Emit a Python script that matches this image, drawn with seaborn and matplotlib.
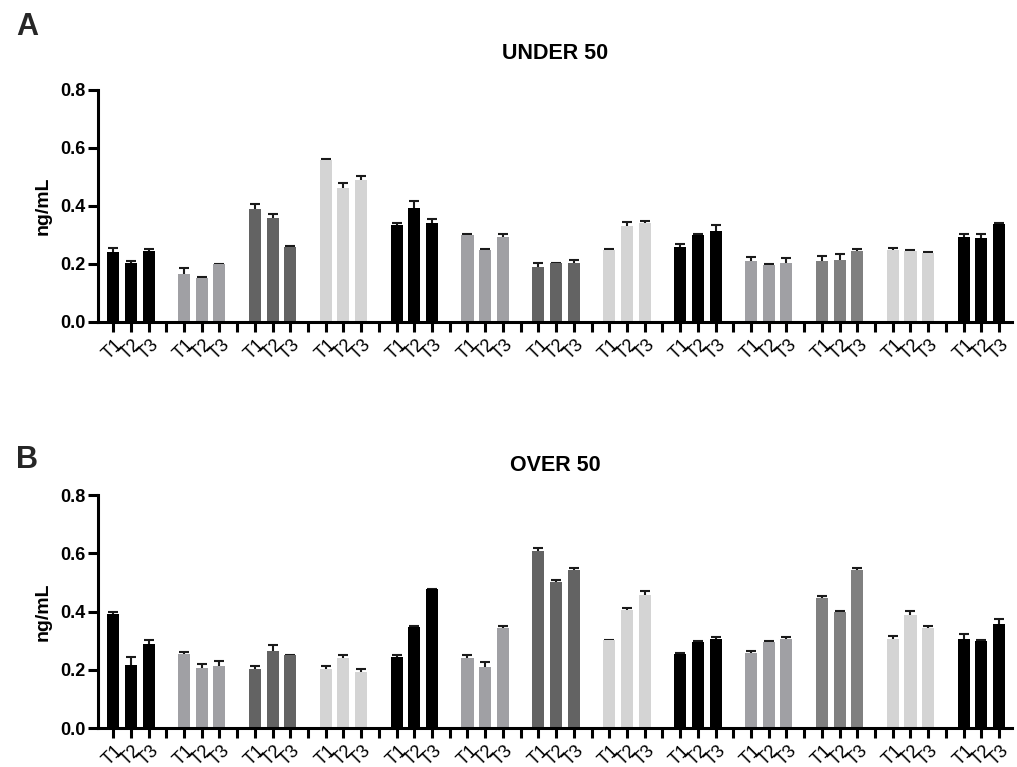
import numpy as np
import pandas as pd
import seaborn as sns
from matplotlib import pyplot as plt

time_points = ["T1", "T2", "T3"]
n_groups = 13

group_shades = ["black", "gray", "dark", "light", "black", "gray", "dark",
                "light", "black", "gray", "mid", "light", "black"]
shade_colors = {"black": "#000000", "gray": "#a0a0a4", "dark": "#636363",
                "light": "#d4d4d4", "mid": "#808080"}

under50_mean = [0.240, 0.202, 0.244, 0.166, 0.153, 0.199, 0.389, 0.357, 0.260,
                0.559, 0.461, 0.489, 0.333, 0.394, 0.340, 0.301, 0.247, 0.294,
                0.190, 0.202, 0.205, 0.249, 0.331, 0.340, 0.257, 0.301, 0.314,
                0.209, 0.195, 0.203, 0.210, 0.213, 0.246, 0.247, 0.244, 0.239,
                0.294, 0.291, 0.338]
under50_err = [0.014, 0.009, 0.009, 0.021, 0.002, 0.002, 0.017, 0.014, 0.002,
               0.004, 0.018, 0.014, 0.009, 0.022, 0.014, 0.002, 0.005, 0.009,
               0.015, 0.003, 0.010, 0.002, 0.014, 0.007, 0.013, 0.003, 0.019,
               0.014, 0.006, 0.017, 0.019, 0.023, 0.007, 0.007, 0.004, 0.002,
               0.008, 0.013, 0.002]

over50_mean = [0.390, 0.215, 0.287, 0.254, 0.206, 0.212, 0.203, 0.264, 0.250,
               0.203, 0.242, 0.194, 0.244, 0.348, 0.477, 0.242, 0.209, 0.345,
               0.607, 0.503, 0.543, 0.301, 0.405, 0.456, 0.254, 0.295, 0.304,
               0.257, 0.297, 0.304, 0.447, 0.399, 0.544, 0.306, 0.389, 0.344,
               0.307, 0.300, 0.358]
over50_err = [0.010, 0.030, 0.016, 0.006, 0.014, 0.018, 0.009, 0.020, 0.002,
              0.009, 0.010, 0.009, 0.008, 0.002, 0.002, 0.008, 0.019, 0.006,
              0.011, 0.006, 0.007, 0.002, 0.006, 0.013, 0.002, 0.005, 0.009,
              0.009, 0.002, 0.010, 0.005, 0.002, 0.005, 0.011, 0.013, 0.006,
              0.016, 0.002, 0.016]

FONT = "Liberation Sans"


def build_frame(means, errs):
    rows = []
    for g in range(n_groups):
        for t, tp in enumerate(time_points):
            i = g * 3 + t
            rows.append({"slot": f"G{g + 1}-{tp}", "group": f"G{g + 1}",
                         "time": tp, "value": means[i], "err": errs[i]})
    return pd.DataFrame(rows)


# slot order with an empty slot between groups
order, tick_labels = [], []
for g in range(n_groups):
    for tp in time_points:
        order.append(f"G{g + 1}-{tp}")
        tick_labels.append(tp)
    if g < n_groups - 1:
        order.append(f"gap{g + 1}")
        tick_labels.append("")

palette = {f"G{g + 1}": shade_colors[s] for g, s in enumerate(group_shades)}


def draw_panel(ax, means, errs, title, pad):
    df = build_frame(means, errs)
    sns.barplot(df, x="slot", y="value", hue="group", order=order,
                palette=palette, dodge=False, width=0.68, linewidth=0,
                legend=False, ax=ax, zorder=2)
    xpos = [order.index(s) for s in df["slot"]]
    # symmetric bars drawn behind the columns, so only the upper half shows
    ax.errorbar(xpos, df["value"], yerr=df["err"], fmt="none",
                ecolor="#1a1a1a", elinewidth=1.5, capsize=3.5,
                capthick=1.5, zorder=1)
    ax.set_xticks(range(len(order)))
    ax.set_xticklabels(tick_labels, rotation=45, fontsize=13, family=FONT,
                       color="black")
    ax.set_xlim(-0.85, len(order) - 1 + 0.73)
    ax.set_ylim(0, 0.8)
    ax.set_yticks([0.0, 0.2, 0.4, 0.6, 0.8])
    ax.set_yticklabels(["0.0", "0.2", "0.4", "0.6", "0.8"], fontsize=13,
                       fontweight="bold", family=FONT, color="black")
    ax.set_xlabel("")
    ax.set_ylabel("ng/mL", fontsize=14, fontweight="bold", family=FONT,
                  labelpad=6, color="black")
    ax.set_title(title, fontsize=15.5, fontweight="bold", family=FONT,
                 pad=pad, color="black")
    for side in ["top", "right"]:
        ax.spines[side].set_visible(False)
    for side in ["left", "bottom"]:
        ax.spines[side].set_linewidth(2.2)
        ax.spines[side].set_color("black")
    ax.tick_params(axis="x", bottom=True, length=7, width=2.2, pad=3,
                   color="black")
    ax.tick_params(axis="y", left=True, length=7, width=2.2, pad=2,
                   color="black")


sns.set_style("ticks")
fig = plt.figure(figsize=(10.17, 7.67), dpi=100)
ax_a = fig.add_axes([0.0964, 0.5802, 0.8987, 0.3025])
ax_b = fig.add_axes([0.0964, 0.0508, 0.8987, 0.3038])

draw_panel(ax_a, under50_mean, under50_err, "UNDER 50", 22)
draw_panel(ax_b, over50_mean, over50_err, "OVER 50", 17)

fig.text(0.016, 0.954, "A", fontsize=22, fontweight="bold", family=FONT)
fig.text(0.016, 0.390, "B", fontsize=22, fontweight="bold", family=FONT)

fig.savefig("out.png", dpi=100)
plt.close(fig)
